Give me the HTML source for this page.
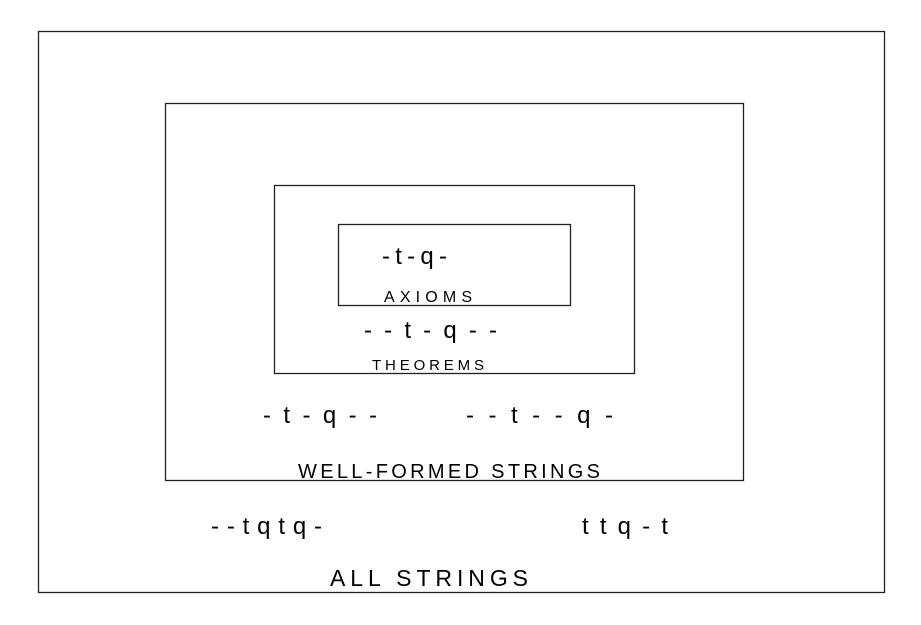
<!DOCTYPE html>
<html><head><style>html,body{margin:0;padding:0;background:#fff}svg{display:block}</style></head>
<body>
<svg width="921" height="625" xmlns="http://www.w3.org/2000/svg" font-family="Liberation Sans, sans-serif" fill="#000">
<rect width="921" height="625" fill="#fff"/>
<g fill="none" stroke="#222" stroke-width="1.3">
<rect x="38.5" y="31.5" width="846" height="561"/>
<rect x="165.5" y="103.5" width="578" height="377"/>
<rect x="274.5" y="185.5" width="360" height="188"/>
<rect x="338.5" y="224.5" width="232" height="81"/>
</g>
<g font-size="24" lengthAdjust="spacing">
<text x="382" y="264" textLength="65">-t-q-</text>
<text x="364" y="338" textLength="133">--t-q--</text>
<text x="263" y="423" textLength="114">-t-q--</text>
<text x="466" y="423" textLength="147">--t--q-</text>
<text x="211" y="534" textLength="111">--tqtq-</text>
<text x="582" y="534" textLength="86">ttq-t</text>
</g>
<text x="384" y="302" font-size="16" textLength="88" lengthAdjust="spacing">AXIOMS</text>
<text x="372" y="370" font-size="15" textLength="112" lengthAdjust="spacing">THEOREMS</text>
<text x="298" y="478" font-size="20" textLength="302" lengthAdjust="spacing">WELL-FORMED STRINGS</text>
<text x="330" y="586" font-size="23" textLength="198" lengthAdjust="spacing">ALL STRINGS</text>
</svg>
</body></html>
